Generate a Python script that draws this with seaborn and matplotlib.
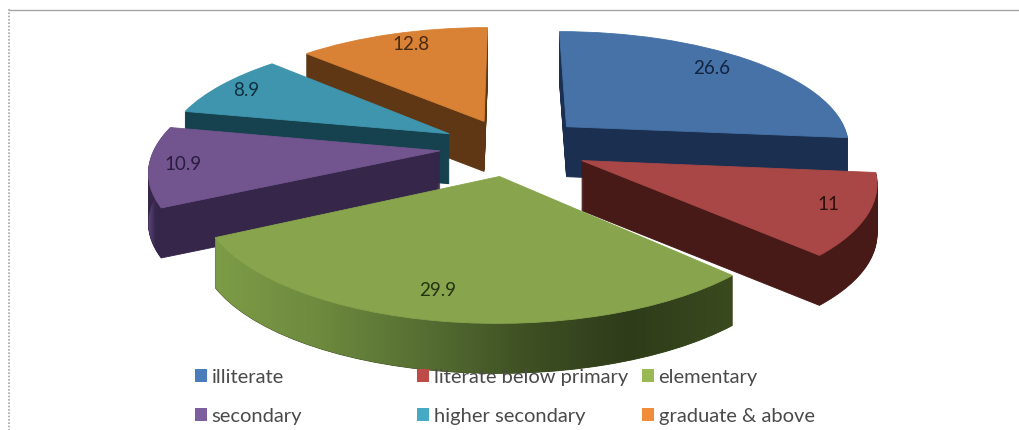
import numpy as np
import matplotlib
matplotlib.use("Agg")
import matplotlib.pyplot as plt
from matplotlib.colors import LinearSegmentedColormap
from matplotlib.legend import Legend
from matplotlib.patches import Patch, PathPatch
from matplotlib.path import Path
from matplotlib.transforms import Affine2D, Transform
import seaborn as sns

categories = ["illiterate", "literate below primary", "elementary",
              "secondary", "higher secondary", "graduate & above"]
shares = [26.6, 11, 29.9, 10.9, 8.9, 12.8]
share_labels = ["26.6", "11", "29.9", "10.9", "8.9", "12.8"]
top_colors = ["#4672a8", "#a84745", "#88a54d", "#72558f", "#3f95ad", "#d98236"]
wall_colors = ["#1b3050", "#471a18", "#3a4a1e", "#35264a", "#16424f", "#5f3714"]
label_colors = ["#12233f", "#2e100f", "#263313", "#2a1b40", "#0f3040", "#4a2a10"]
swatch_colors = ["#4a7ebb", "#be4b48", "#98b954", "#7d5fa0", "#46aac5", "#f08c3a"]
explode = [0.27, 0.27, 0.25, 0.25, 0.25, 0.25]

# Slices are painted back to front so that nearer walls cover farther ones.
draw_order = [5, 4, 3, 0, 1, 2]
label_xy = [(712, 68), (828, 204), (438, 290), (183, 164), (246, 90), (411, 45)]
legend_columns = [(0, 3), (1, 4), (2, 5)]
legend_x = [195, 417, 642]


class TiltedPlane(Transform):
    """Projects the flat pie plane onto the tilted view, in pixel coordinates."""
    input_dims = 2
    output_dims = 2
    is_separable = False

    def __init__(self, cx=511, cy=147, rx=285, ry=115, k=0.15):
        super().__init__()
        self.cx, self.cy, self.rx, self.ry, self.k = cx, cy, rx, ry, k

    def transform_non_affine(self, values):
        values = np.asarray(values, dtype=float)
        w = 1 + self.k * values[:, 1]
        return np.column_stack([self.cx + self.rx * values[:, 0] / w,
                                self.cy - self.ry * values[:, 1] / w])


sns.set_theme(style="white")
plt.rcParams["font.family"] = ["Lato", "DejaVu Sans"]

fig = plt.figure(figsize=(10.19, 4.30), dpi=100, facecolor="white")
ax = fig.add_axes([0, 0, 1, 1])
tilt = TiltedPlane()
depth = 50


def set_pixel_frame():
    ax.set_aspect("auto")
    ax.set_xlim(0, 1019)
    ax.set_ylim(430, 0)
    ax.axis("off")


def outer_wall(wedge, thick):
    """Outline of the curved rim of a slice, between its top and bottom arcs."""
    t = np.radians(np.linspace(wedge.theta1, wedge.theta2, 80))
    x0, y0 = wedge.center
    top = tilt.transform_non_affine(np.column_stack([x0 + wedge.r * np.cos(t),
                                                     y0 + wedge.r * np.sin(t)]))
    bottom = top[::-1] + [0, thick]
    return Path(np.vstack([top, bottom, top[:1]]), closed=True)


def draw_pie(colors, y_shift, zorder):
    wedges, _ = ax.pie(shares, explode=explode, startangle=90, counterclock=False,
                       colors=colors, radius=1)
    shift = Affine2D().translate(0, y_shift)
    for wedge in wedges:
        wedge.set_transform(tilt + shift + ax.transData)
        wedge.set_clip_on(False)
        wedge.set_linewidth(0.6)
        wedge.set_edgecolor(wedge.get_facecolor())
    for i, wedge in enumerate(wedges):
        wedge.set_zorder(zorder + draw_order.index(i) * 100)
    return wedges


# Extruded walls, stacked upward from the bottom of each slice.
for d in range(depth, 0, -1):
    draw_pie(wall_colors, d, 10 + (depth - d) * 0.5)
top_wedges = draw_pie(top_colors, 0, 60)
set_pixel_frame()

# Shaded rims on the elementary and secondary slices.
rim_maps = {
    2: ["#7d9c47", "#6d8a3e", "#566f33", "#3f5023", "#2e3c1a", "#3a4a1e"],
    3: ["#5f4780", "#35264a", "#35264a", "#35264a"],
}
for idx, stops in rim_maps.items():
    wedge = top_wedges[idx]
    rim = outer_wall(wedge, depth)
    xs = rim.vertices[:, 0]
    cmap = LinearSegmentedColormap.from_list("rim", stops)
    image = ax.imshow(np.linspace(0, 1, 256)[None, :], cmap=cmap, aspect="auto",
                      extent=(xs.min(), xs.max(), 430, 0),
                      zorder=wedge.get_zorder() - 1)
    clip = PathPatch(rim, transform=ax.transData, facecolor="none", edgecolor="none")
    ax.add_patch(clip)
    image.set_clip_path(clip)
set_pixel_frame()

# Value labels on the slice tops.
for text, (x, y), color in zip(share_labels, label_xy, label_colors):
    ax.text(x, y, text, ha="center", va="center", fontsize=13.5,
            color=color, zorder=2000)

# Three legend columns, evenly spaced under the pie.
for col_x, members in zip(legend_x, legend_columns):
    handles = [Patch(facecolor=swatch_colors[m], edgecolor="none") for m in members]
    legend = Legend(ax, handles, [categories[m] for m in members],
                    loc="upper left", bbox_to_anchor=(col_x, 369),
                    bbox_transform=ax.transData, frameon=False, fontsize=14.5,
                    ncols=1, labelcolor="#4a4a4a", handlelength=0.62,
                    handleheight=0.62, handletextpad=0.2, labelspacing=1.08,
                    borderpad=0, borderaxespad=0)
    legend.set_zorder(3000)
    ax.add_artist(legend)

# Chart frame: solid along the top, dotted down the left side.
ax.plot([9, 1019], [9.5, 9.5], color="#a6a6a6", lw=1, zorder=1)
ax.plot([9.5, 9.5], [9, 430], color="#a6a6a6", lw=1.2, ls=(0, (1, 1)), zorder=1)
set_pixel_frame()

fig.savefig("out.png", dpi=100, facecolor="white")
